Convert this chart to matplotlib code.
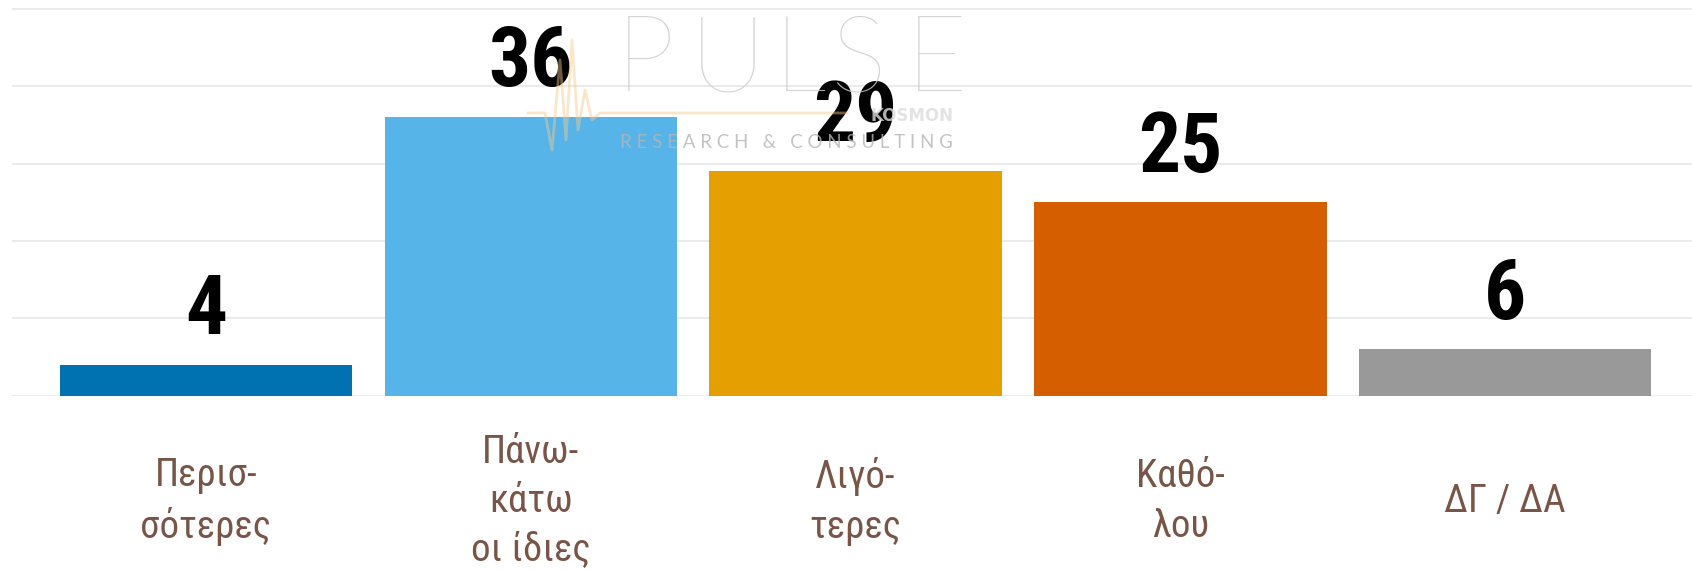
import matplotlib
matplotlib.use("Agg")
import matplotlib.pyplot as plt
from matplotlib import font_manager

categories = ["Περισ-\nσότερες", "Πάνω-\nκάτω\nοι ίδιες", "Λιγό-\nτερες", "Καθό-\nλου", "ΔΓ / ΔΑ"]
values = [4, 36, 29, 25, 6]
colors = ["#0072B2", "#56B4E9", "#E69F00", "#D55E00", "#999999"]
grid_ticks = [0, 10, 20, 30, 40, 50]

# pick a narrow family if one is installed
names = {f.name for f in font_manager.fontManager.ttflist}
narrow = "Roboto"
for cand in ["Roboto Condensed", "Liberation Sans Narrow", "DejaVu Sans Condensed"]:
    if cand in names:
        narrow = cand
        break

fig = plt.figure(figsize=(16.92, 5.71), dpi=100)
ax = fig.add_axes([12 / 1692, 0.3065, 1680 / 1692, 0.6935])

x = list(range(len(values)))
ax.bar(x, values, width=0.9, color=colors, zorder=2)

for xi, v in zip(x, values):
    ax.annotate(str(v), (xi, v), xytext=(0, 22), textcoords="offset points",
                ha="center", va="baseline", fontsize=60, fontweight="bold",
                family=narrow, color="black", zorder=4)

ax.set_xlim(-0.597, 4.575)
ax.set_ylim(0, 51.1)
ax.set_yticks(grid_ticks)
ax.set_yticklabels([])
ax.yaxis.grid(True, color="#ebebeb", linewidth=1.5, zorder=0)
ax.set_axisbelow(True)
ax.tick_params(axis="y", length=0)

ax.set_xticks(x)
ax.set_xticklabels(categories, fontsize=28, color="#795548", family=narrow)
ax.tick_params(axis="x", length=0, pad=76)
for lab in ax.get_xticklabels():
    lab.set_va("center")
    lab.set_multialignment("center")
    lab.set_linespacing(1.42)

for s in ax.spines.values():
    s.set_visible(False)

# watermark (logo, placed in figure pixels)
for ch, cx in zip("PULSE", [645, 728, 800, 858, 936]):
    fig.text(cx / 1692, 1 - 91 / 571, ch, fontsize=76, color="#cacaca",
             family="Lato", fontweight="light", ha="center", va="baseline",
             alpha=0.85, zorder=5)
fig.text(786 / 1692, 1 - 148 / 571, "R E S E A R C H   &   C O N S U L T I N G",
         fontsize=13.5, color="#b5b5b5", family="Lato", ha="center", va="baseline",
         alpha=0.8, zorder=5)
fig.text(953 / 1692, 1 - 121 / 571, "KOSMON", fontsize=12, color="#dddddd",
         fontweight="bold", ha="right", va="baseline", alpha=0.8, zorder=5)
px = [528, 545, 552, 560, 566, 572, 578, 585, 592, 600, 847]
py = [113, 113, 150, 60, 140, 40, 130, 90, 120, 113, 113]
fig.add_artist(plt.Line2D([p / 1692 for p in px], [1 - p / 571 for p in py],
                          color="#f7c98a", alpha=0.45, linewidth=2, zorder=5))

fig.savefig("out.png", dpi=100, facecolor="white")
